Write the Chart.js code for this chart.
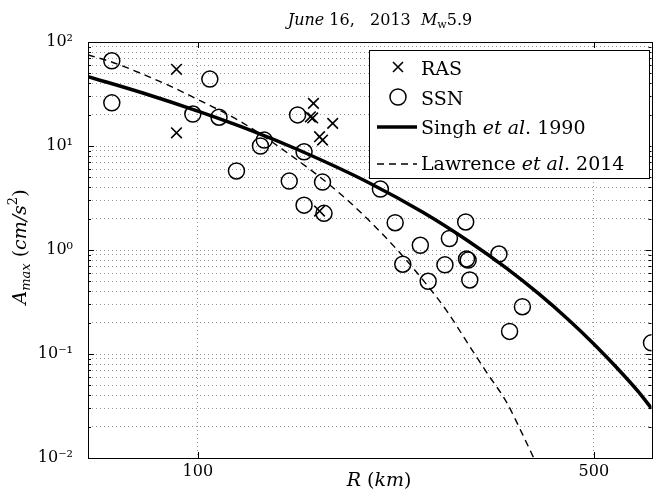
<!DOCTYPE html>
<html>
<head>
<meta charset="utf-8">
<script src="https://cdn.jsdelivr.net/npm/chart.js@4/dist/chart.umd.min.js"></script>
<style>
  html, body { margin: 0; padding: 0; background: #fff; }
  #wrap { width: 661px; height: 501px; position: relative; }
</style>
</head>
<body>
<div id="wrap"><canvas id="chart"></canvas></div>
<script>
const FONT = '"DejaVu Serif", serif';

// RAS stations (cross markers)
const rasR = [91.7, 91.7, 160, 158, 159.5, 173, 164, 166, 164];
const rasA = [54.6, 13.4, 25.7, 19.1, 18.6, 16.5, 12.3, 11.4, 2.37];

// SSN stations (circle markers)
const ssnR = [70.5, 70.5, 105, 98, 109, 131, 129, 117, 150, 154, 145, 166, 154, 167,
              210, 223, 247, 230, 255, 278, 297, 273, 298, 300, 302, 340, 374, 355, 632];
const ssnA = [66, 26, 44, 20.3, 18.9, 11.4, 10.0, 5.75, 19.9, 8.8, 4.6, 4.5, 2.7, 2.25,
              3.85, 1.83, 1.11, 0.73, 0.50, 1.29, 1.86, 0.72, 0.82, 0.80, 0.515, 0.915, 0.285, 0.165, 0.128];

// Singh et al. 1990 curve
const singhR = [64, 80, 100, 125, 150, 200, 250, 300, 350, 400, 450, 500, 550, 600, 632];
const singhA = [46.5, 32.3, 21.6, 13.9, 9.25, 4.46, 2.29, 1.22, 0.673, 0.378, 0.216, 0.125, 0.073, 0.043, 0.030];

// Lawrence et al. 2014 curve
const lawR = [64, 70, 80, 90, 100, 120, 150, 175, 200, 225, 250, 275, 300, 325, 350, 375, 400];
const lawA = [75, 65, 49, 37, 28, 16.7, 7.3, 3.8, 1.95, 1.0, 0.51, 0.26, 0.125, 0.064, 0.035, 0.0165, 0.0078];

// axes
const xTicks = [100, 500];
const yTickValues = [0.01, 0.1, 1, 10, 100];
const yTickLabels = ['10\u207B\u00B2', '10\u207B\u00B9', '10\u2070', '10\u00B9', '10\u00B2'];
const yGrid = [];
[0.01, 0.1, 1, 10].forEach(d => { for (let m = 1; m <= 9; m++) yGrid.push(+(d * m).toPrecision(3)); });
yGrid.push(100);

function pts(xs, ys) {
    return xs.map((x, i) => ({ x: x, y: ys[i] }));
}

function font(size, italic) {
    return (italic ? 'italic ' : '') + size + 'px ' + FONT;
}

// parts: [text, size, italic, dy]
function richWidth(ctx, parts) {
    let w = 0;
    parts.forEach(p => { ctx.font = font(p[1], p[2]); w += ctx.measureText(p[0]).width; });
    return w;
}

function drawRich(ctx, parts, x, y, align) {
    let cx = x;
    if (align === 'center') cx = x - richWidth(ctx, parts) / 2;
    ctx.textAlign = 'left';
    ctx.textBaseline = 'alphabetic';
    ctx.fillStyle = '#000';
    parts.forEach(p => {
        ctx.font = font(p[1], p[2]);
        ctx.fillText(p[0], cx, y + (p[3] || 0));
        cx += ctx.measureText(p[0]).width;
    });
}

const decorations = {
    id: 'decorations',
    afterDraw(chart) {
        const ctx = chart.ctx;
        const area = chart.chartArea;
        const xs = chart.scales.x, ys = chart.scales.y;
        ctx.save();

        // frame
        ctx.strokeStyle = '#000';
        ctx.lineWidth = 1;
        ctx.strokeRect(Math.round(area.left) + 0.5, Math.round(area.top) + 0.5,
                       Math.round(area.right - area.left), Math.round(area.bottom - area.top));

        // inside ticks
        ctx.beginPath();
        yGrid.forEach(v => {
            const py = Math.round(ys.getPixelForValue(v)) + 0.5;
            const len = yTickValues.includes(v) ? 6 : 3;
            ctx.moveTo(area.left, py); ctx.lineTo(area.left + len, py);
            ctx.moveTo(area.right, py); ctx.lineTo(area.right - len, py);
        });
        xTicks.forEach(v => {
            const px = Math.round(xs.getPixelForValue(v)) + 0.5;
            ctx.moveTo(px, area.bottom); ctx.lineTo(px, area.bottom - 6);
            ctx.moveTo(px, area.top); ctx.lineTo(px, area.top + 6);
        });
        ctx.stroke();

        // title
        drawRich(ctx, [['June', 16, true], [' 16,   2013  ', 16, false], ['M', 16, true],
                       ['w', 11, false, 3], ['5.9', 16, false]], 380, 25, 'center');

        // x title
        drawRich(ctx, [['R', 19, true], [' (', 19, false], ['km', 19, true], [')', 19, false]],
                 379, 486, 'center');

        // y title
        ctx.save();
        ctx.translate(26, 247);
        ctx.rotate(-Math.PI / 2);
        drawRich(ctx, [['A', 19, true], ['max', 13, true, 4], [' (', 19, false], ['cm/s', 19, true],
                       ['2', 13, false, -9], [')', 19, false]], 0, 0, 'center');
        ctx.restore();

        // legend
        const bx = 369, by = 50, bw = 280, bh = 128;
        ctx.fillStyle = '#fff';
        ctx.fillRect(bx, by, bw, bh);
        ctx.strokeStyle = '#000';
        ctx.lineWidth = 1;
        ctx.strokeRect(bx + 0.5, by + 0.5, bw, bh);

        ctx.lineWidth = 1.6;
        ctx.beginPath();
        ctx.moveTo(393, 62); ctx.lineTo(403, 72);
        ctx.moveTo(403, 62); ctx.lineTo(393, 72);
        ctx.stroke();
        ctx.lineWidth = 1.5;
        ctx.beginPath();
        ctx.arc(398, 97, 8, 0, Math.PI * 2);
        ctx.stroke();
        ctx.lineWidth = 3.5;
        ctx.beginPath();
        ctx.moveTo(377, 127); ctx.lineTo(417, 127);
        ctx.stroke();
        ctx.lineWidth = 1.4;
        ctx.setLineDash([7, 5]);
        ctx.beginPath();
        ctx.moveTo(377, 164); ctx.lineTo(417, 164);
        ctx.stroke();
        ctx.setLineDash([]);

        const lx = 421, fs = 19;
        drawRich(ctx, [['RAS', fs, false]], lx, 75);
        drawRich(ctx, [['SSN', fs, false]], lx, 105);
        drawRich(ctx, [['Singh ', fs, false], ['et al', fs, true], ['. 1990', fs, false]], lx, 134);
        drawRich(ctx, [['Lawrence ', fs, false], ['et al', fs, true], ['. 2014', fs, false]], lx, 170);

        ctx.restore();
    }
};

const gridStyle = { color: 'rgba(0,0,0,0.42)', lineWidth: 1, drawTicks: false };

new Chart(document.getElementById('chart'), {
    type: 'scatter',
    data: {
        datasets: [
            {
                label: 'RAS',
                data: pts(rasR, rasA),
                pointStyle: 'crossRot',
                pointRadius: 7.5,
                borderColor: '#000',
                borderWidth: 1.6,
                order: 4,
                clip: 0
            },
            {
                label: 'SSN',
                data: pts(ssnR, ssnA),
                pointStyle: 'circle',
                pointRadius: 8,
                borderColor: '#000',
                backgroundColor: 'rgba(0,0,0,0)',
                borderWidth: 1.5,
                order: 3,
                clip: 0
            },
            {
                label: 'Singh et al. 1990',
                data: pts(singhR, singhA),
                showLine: true,
                pointRadius: 0,
                borderColor: '#000',
                borderWidth: 3.5,
                cubicInterpolationMode: 'monotone',
                order: 2,
                clip: 0
            },
            {
                label: 'Lawrence et al. 2014',
                data: pts(lawR, lawA),
                showLine: true,
                pointRadius: 0,
                borderColor: '#000',
                borderWidth: 1.4,
                borderDash: [7, 5],
                cubicInterpolationMode: 'monotone',
                order: 1,
                clip: 0
            }
        ]
    },
    options: {
        responsive: true,
        maintainAspectRatio: false,
        animation: false,
        layout: { padding: { left: 0, right: 7, top: 42, bottom: 0 } },
        plugins: {
            legend: { display: false },
            tooltip: { enabled: false },
            title: { display: false }
        },
        scales: {
            x: {
                type: 'logarithmic',
                min: 64,
                max: 632,
                grid: gridStyle,
                border: { display: false, dash: [1, 3] },
                afterBuildTicks: s => { s.ticks = xTicks.map(v => ({ value: v })); },
                afterFit: s => { s.height = 43; },
                ticks: {
                    autoSkip: false,
                    maxRotation: 0,
                    padding: 4,
                    color: '#000',
                    font: { family: FONT, size: 16 },
                    callback: v => String(v)
                }
            },
            y: {
                type: 'logarithmic',
                min: 0.01,
                max: 100,
                grid: gridStyle,
                border: { display: false, dash: [1, 3] },
                afterBuildTicks: s => { s.ticks = yGrid.map(v => ({ value: v })); },
                afterFit: s => { s.width = 88; },
                ticks: {
                    autoSkip: false,
                    padding: 15,
                    color: '#000',
                    font: { family: FONT, size: 16 },
                    callback: v => {
                        const i = yTickValues.findIndex(t => Math.abs(t - v) / t < 1e-6);
                        return i >= 0 ? yTickLabels[i] : '';
                    }
                }
            }
        }
    },
    plugins: [decorations]
});
</script>
</body>
</html>
